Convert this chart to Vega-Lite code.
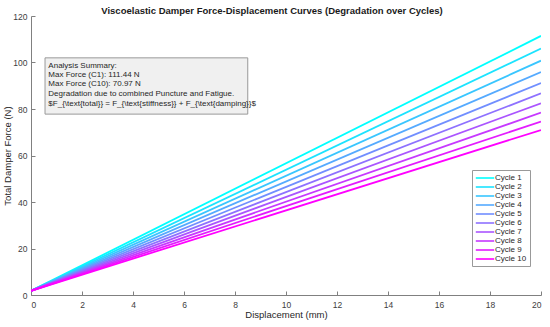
{
  "$schema": "https://vega.github.io/schema/vega-lite/v6.json",
  "autosize": {"type": "none"},
  "padding": {"left": 31, "top": 16, "right": 9, "bottom": 32},
  "width": 510,
  "height": 279,
  "background": "white",
  "config": {
    "view": {"stroke": null},
    "font": "Liberation Sans",
    "axis": {
      "domainColor": "#808080",
      "tickColor": "#808080",
      "tickSize": -4,
      "grid": false,
      "labelFont": "Liberation Sans",
      "labelFontSize": 8.5,
      "labelColor": "#404040",
      "titleFont": "Liberation Sans",
      "titleFontSize": 9.5,
      "titleFontWeight": "normal",
      "titleColor": "#262626"
    }
  },
  "title": {
    "text": "Viscoelastic Damper Force-Displacement Curves (Degradation over Cycles)",
    "fontSize": 9.5,
    "fontWeight": "bold",
    "color": "#1a1a1a",
    "font": "Liberation Sans",
    "anchor": "middle",
    "dx": -14,
    "offset": -3
  },
  "datasets": {
    "curves": [
      {"disp": 0, "force": 1.8, "cycle": "Cycle 1"}, {"disp": 20, "force": 111.44, "cycle": "Cycle 1"},
      {"disp": 0, "force": 1.8, "cycle": "Cycle 2"}, {"disp": 20, "force": 105.98, "cycle": "Cycle 2"},
      {"disp": 0, "force": 1.8, "cycle": "Cycle 3"}, {"disp": 20, "force": 100.79, "cycle": "Cycle 3"},
      {"disp": 0, "force": 1.8, "cycle": "Cycle 4"}, {"disp": 20, "force": 95.86, "cycle": "Cycle 4"},
      {"disp": 0, "force": 1.8, "cycle": "Cycle 5"}, {"disp": 20, "force": 91.17, "cycle": "Cycle 5"},
      {"disp": 0, "force": 1.8, "cycle": "Cycle 6"}, {"disp": 20, "force": 86.71, "cycle": "Cycle 6"},
      {"disp": 0, "force": 1.8, "cycle": "Cycle 7"}, {"disp": 20, "force": 82.47, "cycle": "Cycle 7"},
      {"disp": 0, "force": 1.8, "cycle": "Cycle 8"}, {"disp": 20, "force": 78.43, "cycle": "Cycle 8"},
      {"disp": 0, "force": 1.8, "cycle": "Cycle 9"}, {"disp": 20, "force": 74.60, "cycle": "Cycle 9"},
      {"disp": 0, "force": 1.8, "cycle": "Cycle 10"}, {"disp": 20, "force": 70.97, "cycle": "Cycle 10"}
    ],
    "box": [{"x0": 0.55, "x1": 8.5, "y0": 102, "y1": 77.8}],
    "notes": [
      {"x": 0.68, "y": 98.6, "text": "Analysis Summary:"},
      {"x": 0.68, "y": 94.6, "text": "Max Force (C1): 111.44 N"},
      {"x": 0.68, "y": 90.6, "text": "Max Force (C10): 70.97 N"},
      {"x": 0.68, "y": 86.4, "text": "Degradation due to combined Puncture and Fatigue."},
      {"x": 0.68, "y": 82.3, "text": "$F_{\\text{total}} = F_{\\text{stiffness}} + F_{\\text{damping}}$"}
    ]
  },
  "layer": [
    {
      "data": {"name": "box"},
      "mark": {"type": "rect", "fill": "#f0f0f0", "stroke": "#999999", "strokeWidth": 1},
      "encoding": {
        "x": {"field": "x0", "type": "quantitative", "scale": {"domain": [0, 20]}},
        "x2": {"field": "x1"},
        "y": {"field": "y0", "type": "quantitative", "scale": {"domain": [0, 120]}},
        "y2": {"field": "y1"}
      }
    },
    {
      "data": {"name": "notes"},
      "mark": {"type": "text", "align": "left", "baseline": "middle", "fontSize": 8, "color": "#262626", "font": "Liberation Sans"},
      "encoding": {
        "x": {"field": "x", "type": "quantitative"},
        "y": {"field": "y", "type": "quantitative"},
        "text": {"field": "text"}
      }
    },
    {
      "data": {"name": "curves"},
      "mark": {"type": "line", "strokeWidth": 1.8, "clip": true},
      "encoding": {
        "x": {
          "field": "disp", "type": "quantitative",
          "scale": {"domain": [0, 20], "nice": false, "zero": false},
          "axis": {"title": "Displacement (mm)", "values": [0,2,4,6,8,10,12,14,16,18,20], "labelPadding": 9, "titlePadding": 1}
        },
        "y": {
          "field": "force", "type": "quantitative",
          "scale": {"domain": [0, 120], "nice": false},
          "axis": {"title": "Total Damper Force (N)", "values": [0,20,40,60,80,100,120], "labelPadding": 8, "titlePadding": 0}
        },
        "color": {
          "field": "cycle", "type": "nominal",
          "scale": {
            "domain": ["Cycle 1","Cycle 2","Cycle 3","Cycle 4","Cycle 5","Cycle 6","Cycle 7","Cycle 8","Cycle 9","Cycle 10"],
            "range": ["#00ffff","#1ce3ff","#39c6ff","#55aaff","#718eff","#8e71ff","#aa55ff","#c639ff","#e31cff","#ff00ff"]
          },
          "legend": {
            "title": null,
            "orient": "none",
            "legendX": 441,
            "legendY": 154,
            "symbolType": "M-2.3,0H2.3",
            "symbolSize": 64,
            "symbolStrokeWidth": 1.6,
            "symbolOffset": 5,
            "labelFontSize": 8,
            "labelFont": "Liberation Sans",
            "labelColor": "#262626",
            "rowPadding": 0,
            "padding": 3,
            "strokeColor": "#999999",
            "fillColor": "white",
            "labelOffset": 5
          }
        }
      }
    }
  ]
}
